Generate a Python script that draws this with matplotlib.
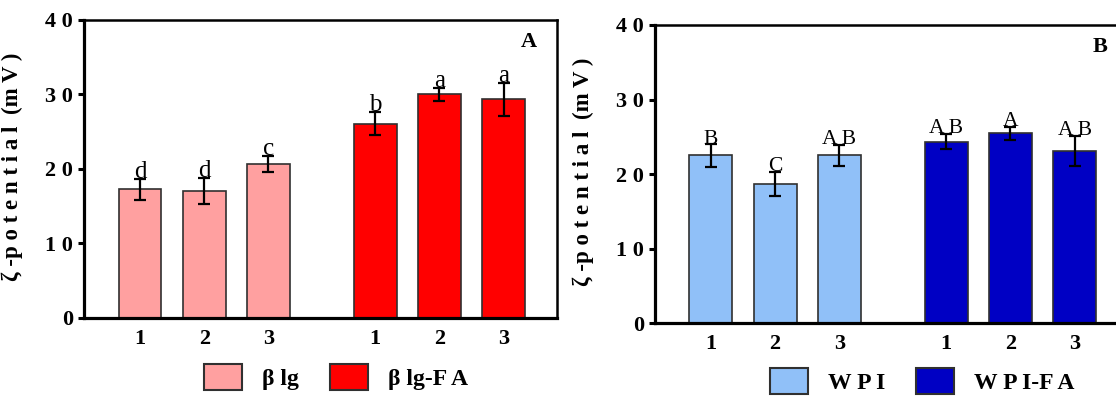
import numpy as np
import matplotlib
matplotlib.use("Agg")
import matplotlib.pyplot as plt
from matplotlib.patches import Patch

plt.rcParams['font.family'] = ['Liberation Serif', 'DejaVu Serif']

#%% data
samples = ['1', '2', '3']
ytick_vals = [0, 10, 20, 30, 40]
ytick_labels = ['0', '1 0', '2 0', '3 0', '4 0']

# panel A: beta-lactoglobulin
blg = [17.25, 17.05, 20.65]
blg_err = [1.4, 1.75, 1.1]
blg_sig = ['d', 'd', 'c']
blg_fa = [26.1, 30.0, 29.35]
blg_fa_err = [1.6, 0.85, 2.2]
blg_fa_sig = ['b', 'a', 'a']

# panel B: whey protein isolate
wpi = [22.5, 18.7, 22.55]
wpi_err = [1.5, 1.65, 1.4]
wpi_sig = ['B', 'C', 'A B']
wpi_fa = [24.35, 25.45, 23.1]
wpi_fa_err = [1.0, 0.9, 2.0]
wpi_fa_sig = ['A B', 'A', 'A B']

ylab = 'ζ -p o t e n t i a l  (m V )'


def panel(ax, v1, e1, s1, v2, e2, s2, c1, c2, lab1, lab2, letter, sigsize):
    x1 = np.arange(3)
    x2 = np.arange(3) + 3.66
    for x, v, e, c in [(x1, v1, e1, c1), (x2, v2, e2, c2)]:
        ax.bar(x, v, width=0.667, color=c, edgecolor='#303030', linewidth=1.2, zorder=2)
        ax.errorbar(x, v, yerr=e, fmt='none', ecolor='black', elinewidth=1.6,
                    capsize=4, capthick=1.6, zorder=3)
    for x, v, e, s in zip(np.concatenate([x1, x2]), v1 + v2, e1 + e2, s1 + s2):
        ax.text(x, v + e + 0.1, s, ha='center', va='baseline', fontsize=sigsize)
    ax.set_xlim(-0.87, 6.49)
    ax.set_ylim(0, 40)
    ax.set_xticks(np.concatenate([x1, x2]))
    ax.set_xticklabels(samples * 2, fontsize=16, fontweight='bold')
    ax.set_yticks(ytick_vals)
    ax.set_yticklabels(ytick_labels, fontsize=16, fontweight='bold')
    ax.tick_params(axis='x', length=0, pad=8)
    ax.tick_params(axis='y', length=4, width=2.2, pad=4)
    for sp in ['left', 'bottom']:
        ax.spines[sp].set_linewidth(2.3)
    for sp in ['top', 'right']:
        ax.spines[sp].set_linewidth(1.8)
    ax.set_ylabel(ylab, fontsize=16.5, fontweight='bold')
    ax.yaxis.set_label_coords(-0.129, 0.508)
    ax.text(0.94, 0.926, letter, transform=ax.transAxes, ha='center', va='center',
            fontsize=16, fontweight='bold')
    handles = [Patch(facecolor=c1, edgecolor='#303030', linewidth=1.5, label=lab1),
               Patch(facecolor=c2, edgecolor='#303030', linewidth=1.5, label=lab2)]
    return handles


fig = plt.figure(figsize=(11.16, 3.96), dpi=100)
axA = fig.add_axes([0.0753, 0.197, 0.4238, 0.7525])
axB = fig.add_axes([0.5869, 0.1836, 0.4238, 0.7533])

hA = panel(axA, blg, blg_err, blg_sig, blg_fa, blg_fa_err, blg_fa_sig,
           '#FFA0A0', '#FF0000', 'β lg', 'β lg-F A', 'A', 18)
hB = panel(axB, wpi, wpi_err, wpi_sig, wpi_fa, wpi_fa_err, wpi_fa_sig,
           '#90C0F8', '#0000C4', 'W P I', 'W P I-F A', 'B', 15.5)

for h, cx, cy in [(hA, 336, 377), (hB, 922, 381)]:
    fig.legend(handles=h, loc='center', bbox_to_anchor=(cx / 1116, 1 - cy / 396),
               ncol=2, frameon=False, handlelength=1.6, handleheight=1.3,
               handletextpad=0.85, columnspacing=1.3,
               prop={'family': ['Liberation Serif', 'DejaVu Serif'], 'weight': 'bold', 'size': 17})

fig.savefig('out.png', dpi=100)
